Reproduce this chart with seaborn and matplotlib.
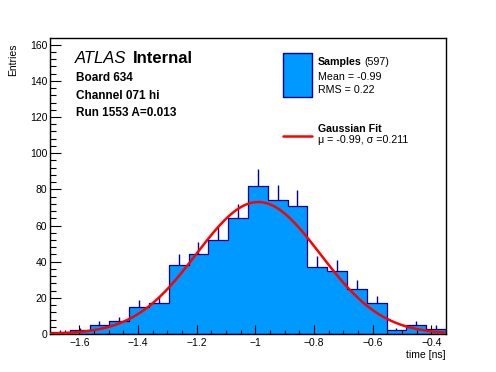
import numpy as np
import pandas as pd
import seaborn as sns
import matplotlib.pyplot as plt
from matplotlib.patches import Rectangle
from matplotlib.lines import Line2D
from matplotlib.ticker import MultipleLocator

# ----------------------------
# data
# ----------------------------
x_lo, x_hi, n_bins = -1.7, -0.35, 20
counts = [1, 2, 5, 7, 15, 17, 38, 44, 52, 64,
          82, 74, 71, 37, 35, 25, 17, 2, 5, 3]

n_entries = 597
mean_txt, rms_txt = "-0.99", "0.22"
fit_mu, fit_sigma, fit_amp = -0.99, 0.211, 73.0

info_lines = ["Board 634", "Channel 071 hi", "Run 1553 A=0.013"]

fill_color = "#0099ff"
edge_color = "#000099"

# ----------------------------
# style
# ----------------------------
sns.set_style("white")
plt.rcParams["font.family"] = ["Liberation Sans", "DejaVu Sans"]
plt.rcParams["text.color"] = "black"
plt.rcParams["xtick.color"] = "black"
plt.rcParams["ytick.color"] = "black"

edges = np.linspace(x_lo, x_hi, n_bins + 1)
centers = 0.5 * (edges[:-1] + edges[1:])
counts = np.array(counts, dtype=float)
df = pd.DataFrame({"time": centers, "n": counts})

fig = plt.figure(figsize=(4.96, 3.72), dpi=100)
ax = fig.add_axes([50 / 496, 38 / 372, 396 / 496, 296 / 372])

# error bars first, so the filled histogram hides their lower half
ax.errorbar(centers, counts, yerr=np.sqrt(counts), fmt="none",
            ecolor=edge_color, elinewidth=1, zorder=0.9)

sns.histplot(data=df, x="time", weights="n", bins=list(edges), element="step",
             fill=True, color=fill_color, edgecolor=edge_color,
             linewidth=0.9, alpha=1, ax=ax, zorder=1)

# gaussian fit curve
fit_x = np.linspace(x_lo, x_hi - 0.005, 300)
fit_y = fit_amp * np.exp(-0.5 * ((fit_x - fit_mu) / fit_sigma) ** 2)
sns.lineplot(x=fit_x, y=fit_y, color="red", linewidth=1.8, ax=ax, zorder=3)

# ----------------------------
# axes
# ----------------------------
ax.set_xlim(x_lo, x_hi)
ax.set_ylim(0, 163.7)
ax.set_xlabel("")
ax.set_ylabel("")
ax.set_axisbelow(False)
ax.xaxis.set_major_locator(MultipleLocator(0.2))
ax.xaxis.set_minor_locator(MultipleLocator(0.05))
ax.yaxis.set_major_locator(MultipleLocator(20))
ax.yaxis.set_minor_locator(MultipleLocator(4))
ax.tick_params(which="both", direction="in", color="black", width=0.8,
               labelsize=7.5, labelcolor="black",
               bottom=True, left=True, top=False, right=False)
ax.tick_params(axis="x", which="major", length=6.5, pad=3)
ax.tick_params(axis="x", which="minor", length=3)
ax.tick_params(axis="y", which="major", length=8, pad=2)
ax.tick_params(axis="y", which="minor", length=4)
ax.set_xticks([-1.6, -1.4, -1.2, -1.0, -0.8, -0.6, -0.4])
ax.set_xticklabels(["\u22121.6", "\u22121.4", "\u22121.2", "\u22121",
                    "\u22120.8", "\u22120.6", "\u22120.4"])
for s in ax.spines.values():
    s.set_color("black")
    s.set_linewidth(1)

fig.text(12.7 / 496, 1 - 43 / 372, "Entries", rotation=90,
         ha="center", va="top", fontsize=7.5)
fig.text(446 / 496, 1 - 355 / 372, "time [ns]", ha="right", va="center",
         fontsize=7.5)

# ----------------------------
# labels
# ----------------------------
tr = ax.transAxes
ax.text(0.063, 0.9166, "ATLAS", style="italic", fontsize=12, transform=tr)
ax.text(0.209, 0.9166, "Internal", weight="bold", fontsize=12, transform=tr)
for txt, yy in zip(info_lines, [0.8557, 0.795, 0.7355]):
    ax.text(0.065, yy, txt, weight="bold", fontsize=8.5, transform=tr)

# legend, drawn by hand like ROOT's TLegend
ax.add_patch(Rectangle((0.589, 0.802), 0.072, 0.146, transform=tr,
                       facecolor=fill_color, edgecolor=edge_color,
                       linewidth=1, zorder=4))
ax.text(0.676, 0.909, "Samples", weight="bold", fontsize=7.7, transform=tr)
ax.text(0.793, 0.909, f"({n_entries})", fontsize=7.7, transform=tr)
ax.text(0.676, 0.858, f"Mean = {mean_txt}", fontsize=7.7, transform=tr)
ax.text(0.676, 0.813, f"RMS = {rms_txt}", fontsize=7.7, transform=tr)

ax.add_line(Line2D([0.588, 0.662], [0.669, 0.669], transform=tr,
                   color="red", linewidth=1.8, zorder=4))
ax.text(0.676, 0.683, "Gaussian Fit", weight="bold", fontsize=7.7, transform=tr)
ax.text(0.676, 0.644, f"\u03bc = {fit_mu}, \u03c3 ={fit_sigma}",
        fontsize=7.7, transform=tr)

fig.savefig("out.png", dpi=100)
